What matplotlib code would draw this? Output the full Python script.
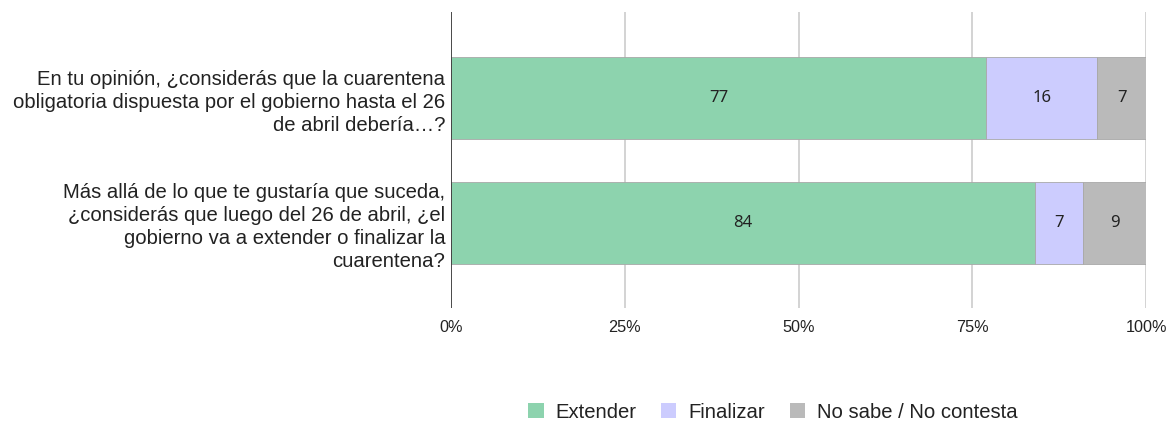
import numpy as np
import matplotlib
matplotlib.use("Agg")
import matplotlib.pyplot as plt
from matplotlib.patches import Patch

# Data
preguntas = [
    "En tu opinión, ¿considerás que la cuarentena\nobligatoria dispuesta por el gobierno hasta el 26\nde abril debería…?",
    "Más allá de lo que te gustaría que suceda,\n¿considerás que luego del 26 de abril, ¿el\ngobierno va a extender o finalizar la\ncuarentena?",
]
extender = [77, 84]
finalizar = [16, 7]
no_sabe = [7, 9]
series_labels = ["Extender", "Finalizar", "No sabe / No contesta"]
colores = ["#8dd3ae", "#ccccfe", "#bababa"]

fig = plt.figure(figsize=(11.71, 4.23), dpi=100)
ax = fig.add_axes([0.3851, 0.2719, 0.5936, 0.6997])

y = np.arange(len(preguntas))
left = np.zeros(len(preguntas))
for vals, col in zip([extender, finalizar, no_sabe], colores):
    vals = np.array(vals, dtype=float)
    ax.barh(y, vals, left=left, height=0.656, color=col, edgecolor="#a8a8a8",
            linewidth=0.6, zorder=3)
    for yi, l, v in zip(y, left, vals):
        ax.text(l + v / 2, yi, str(int(v)), ha="center", va="center",
                fontsize=12, family="Noto Sans", color="#222222", zorder=4)
    left += vals

ax.set_xlim(0, 100)
ax.set_ylim(1.68, -0.69)
ax.set_xticks([0, 25, 50, 75, 100])
ax.set_xticklabels(["0%", "25%", "50%", "75%", "100%"], family="Liberation Sans",
                   fontsize=11.7, color="#222222")
ax.set_yticks(y)
ax.set_yticklabels(preguntas, family="Liberation Sans", fontsize=14.6, color="#222222",
                   linespacing=1.28)
ax.tick_params(axis="both", length=0)
ax.tick_params(axis="x", pad=9)
ax.tick_params(axis="y", pad=4)
ax.grid(axis="x", color="#cccccc", linewidth=1.2, zorder=0)
for s in ax.spines.values():
    s.set_visible(False)
ax.axvline(0, color="#333333", linewidth=1.2, zorder=5)

handles = [Patch(facecolor=c, edgecolor="none") for c in colores]
fig.legend(handles, series_labels, loc="center", bbox_to_anchor=(773 / 1171, 1 - 412 / 423),
           ncol=3, frameon=False, prop={"family": "Liberation Sans", "size": 14.6},
           handlelength=0.75, handleheight=0.75, handletextpad=0.6, columnspacing=1.2,
           labelcolor="#222222")

fig.savefig("out.png", dpi=100)
